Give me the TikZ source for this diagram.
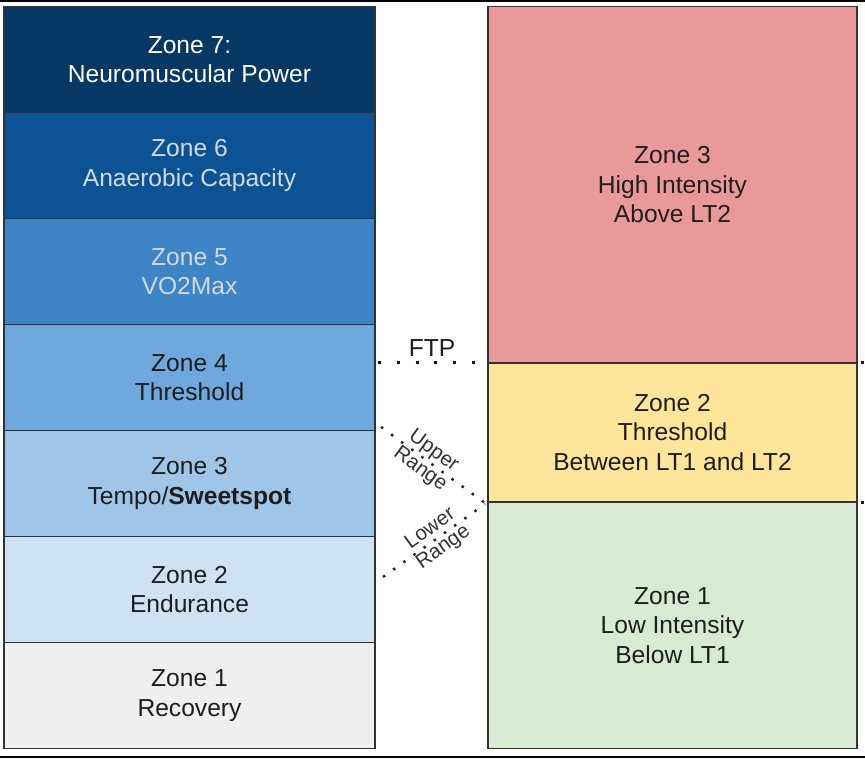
\documentclass[tikz,border=0pt]{standalone}
\usepackage{fontspec}
\setmainfont{Liberation Sans}
\usetikzlibrary{calc}
\definecolor{zsev}{HTML}{073763}
\definecolor{zsix}{HTML}{0B5394}
\definecolor{zfive}{HTML}{3D85C6}
\definecolor{zfour}{HTML}{6FA8DC}
\definecolor{zthree}{HTML}{9FC5E8}
\definecolor{ztwo}{HTML}{CFE2F3}
\definecolor{zone}{HTML}{EFEFEF}
\definecolor{rred}{HTML}{EA9999}
\definecolor{ryel}{HTML}{FFE599}
\definecolor{rgrn}{HTML}{D9EAD3}
\definecolor{lightgraytext}{HTML}{D3D8DE}
\definecolor{darktext}{HTML}{1E1E1E}
\begin{document}
\begin{tikzpicture}[x=1pt,y=-1pt,
  box/.style={draw=black!80, line width=1.3pt, rectangle, inner sep=0pt, outer sep=0pt,
    align=center, font=\fontsize{24.6}{29.5}\selectfont, text=darktext},
  lbox/.style={box, minimum width=371pt, minimum height=106pt},
  rbox/.style={box, minimum width=369pt},
  bigdots/.style={line width=3pt, dash pattern=on 3pt off 15.8pt, draw=black!90},
  edgedots/.style={line width=3pt, dash pattern=on 0pt off 3.5pt on 3pt off 20pt, draw=black!90},
  smalldots/.style={line width=2.5pt, dash pattern=on 2.5pt off 10pt, draw=black!85},
  rangelbl/.style={font=\fontsize{20.5}{22.5}\selectfont, text=black!80, align=center, inner sep=0pt},
  frameline/.style={draw=black, line width=2.2pt}
]
\useasboundingbox (0,0) rectangle (865,759);
\fill[white] (0,0) rectangle (865,759);

% frame lines
\coordinate (tl) at (0,1);
\coordinate (tr) at (865,1);
\coordinate (bl) at (0,756.8);
\coordinate (br) at (865,756.8);
\draw[frameline] (tl) -- (tr);
\draw[frameline] (bl) -- (br);

% left column
\node[lbox, fill=zsev, text=white] (z7) at (189.5,59.5) {Zone 7:\\Neuromuscular Power};
\node[lbox, fill=zsix, text=lightgraytext] (z6) at (189.5,165.5) {Zone 6\\Anaerobic Capacity};
\node[lbox, fill=zfive, text=lightgraytext] (z5) at (189.5,271.5) {Zone 5\\VO2Max};
\node[lbox, fill=zfour] (z4) at (189.5,377.5) {Zone 4\\Threshold};
\node[lbox, fill=zthree] (z3) at (189.5,483.5) {Zone 3\\Tempo/\textbf{Sweetspot}};
\node[lbox, fill=ztwo] (z2) at (189.5,589.5) {Zone 2\\Endurance};
\node[lbox, fill=zone] (z1) at (189.5,695.5) {Zone 1\\Recovery};

% right column
\node[rbox, fill=rred, minimum height=356.5pt] (r3) at (672.5,184.75) {Zone 3\\High Intensity\\Above LT2};
\node[rbox, fill=ryel, minimum height=139pt] (r2) at (672.5,432.5) {Zone 2\\Threshold\\Between LT1 and LT2};
\node[rbox, fill=rgrn, minimum height=246.5pt] (r1) at (672.5,625.25) {Zone 1\\Low Intensity\\Below LT1};

% FTP line
\coordinate (ftpL) at (378,363);
\coordinate (ftpR) at (476,363);
\draw[bigdots] (ftpL) -- (ftpR);
\node[font=\fontsize{24.6}{28}\selectfont, text=darktext, inner sep=0pt] (ftp) at (432,348) {FTP};

% right edge dot continuations
\coordinate (eA) at (865,363);
\coordinate (eB) at (865,502);
\draw[edgedots] (r2.north east) -- (eA);
\draw[edgedots] (r1.north east) -- (eB);

% upper range
\coordinate (uA) at (381,427);
\coordinate (uB) at (485,503);
\draw[smalldots] (uA) -- (uB);
\node[rangelbl, rotate=-36] (ulbl) at ($(uA)!0.44!(uB)$) {Upper\\Range};

% lower range
\coordinate (lA) at (383,577);
\coordinate (lB) at (485,504);
\draw[smalldots] (lA) -- (lB);
\node[rangelbl, rotate=35.6] (llbl) at ($(lA)!0.53!(lB)$) {Lower\\Range};
\end{tikzpicture}
\end{document}
